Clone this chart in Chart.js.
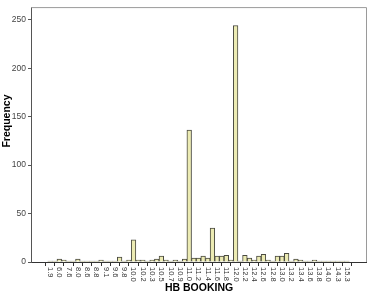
<!DOCTYPE html>
<html>
<head>
<meta charset="utf-8">
<script src="https://cdn.jsdelivr.net/npm/chart.js@4"></script>
<style>
html,body{margin:0;padding:0;background:#fff;}
#wrap{width:370px;height:295px;}
</style>
</head>
<body>
<div id="wrap"><canvas id="c" width="370" height="295"></canvas></div>
<script>
// Labelled categories (every other category carries a label)
const tickLabels = ["1.9","6.0","7.6","8.0","8.6","8.8","9.1","9.6","9.8","10.0","10.2","10.3","10.5","10.7","10.9","11.0","11.2","11.4","11.6","11.8","12.0","12.2","12.4","12.6","12.8","13.0","13.2","13.4","13.6","13.8","14.0","14.3","15.3"];
// Frequency of each category (65 categories, in order)
const frequencies = [1,1,3,2,1,1,3,1,1,1,1,2,1,1,1,5,1,2,23,2,2,1,2,3,6,2,1,2,1,3,136,4,4,6,4,35,6,6,7,2,244,1,7,4,2,6,8,2,1,6,6,9,1,3,2,1,1,2,1,1,1,1,1,1,1];
const yTicks = [0,50,100,150,200,250];
const xTitle = "HB BOOKING";
const yTitle = "Frequency";

const points = frequencies.map((v,i)=>({x:i,y:v}));

const drawPlugin = {
  id:'spssDecor',
  afterDraw(chart){
    const ctx = chart.ctx, a = chart.chartArea;
    const xs = chart.scales.x;
    ctx.save();
    // frame top and right
    ctx.strokeStyle = '#9a9a9a';
    ctx.lineWidth = 1;
    ctx.beginPath();
    ctx.moveTo(a.left, a.top+0.5); ctx.lineTo(a.right+0.5, a.top+0.5);
    ctx.lineTo(a.right+0.5, a.bottom);
    ctx.stroke();
    // rotated x tick labels (reading top to bottom)
    ctx.fillStyle = '#333';
    ctx.font = '7.5px "Liberation Sans", Arial, sans-serif';
    ctx.textAlign = 'left';
    ctx.textBaseline = 'middle';
    tickLabels.forEach((lab,k)=>{
      const px = xs.getPixelForValue(k*2);
      ctx.save();
      ctx.translate(px, a.bottom+5);
      ctx.rotate(Math.PI/2);
      ctx.fillText(lab,0,0);
      ctx.restore();
    });
    // axis titles
    ctx.fillStyle = '#000';
    ctx.font = 'bold 10.5px "Liberation Sans", Arial, sans-serif';
    ctx.textAlign = 'center';
    ctx.textBaseline = 'middle';
    ctx.fillText(xTitle, 199, 288);
    ctx.save();
    ctx.translate(7, 121);
    ctx.rotate(-Math.PI/2);
    ctx.fillText(yTitle,0,0);
    ctx.restore();
    ctx.restore();
  }
};

new Chart(document.getElementById('c'), {
  type:'bar',
  data:{
    datasets:[{
      data:points,
      backgroundColor:'#ecebb3',
      borderColor:'#4a4a40',
      borderWidth:1,
      barPercentage:1.0,
      categoryPercentage:1.0
    }]
  },
  options:{
    responsive:false,
    animation:false,
    devicePixelRatio:1,
    layout:{padding:{top:3,right:4,left:0,bottom:0}},
    plugins:{legend:{display:false},tooltip:{enabled:false}},
    scales:{
      x:{
        type:'linear',
        min:-4.1,
        max:68.1,
        offset:false,
        afterBuildTicks(scale){
          scale.ticks = tickLabels.map((l,k)=>({value:k*2}));
        },
        afterFit(scale){ scale.height = 33; },
        ticks:{display:false},
        grid:{display:true,drawOnChartArea:false,drawTicks:true,tickLength:4,color:'#333'},
        border:{display:true,color:'#333',width:1}
      },
      y:{
        min:0,
        max:263,
        afterBuildTicks(scale){
          scale.ticks = yTicks.map(v=>({value:v}));
        },
        afterFit(scale){ scale.width = 31; },
        ticks:{color:'#444',font:{size:8.5,family:'"Liberation Sans", Arial, sans-serif'},padding:2},
        grid:{display:true,drawOnChartArea:false,drawTicks:true,tickLength:3,color:'#555'},
        border:{display:true,color:'#555',width:1}
      }
    }
  },
  plugins:[drawPlugin]
});
</script>
</body>
</html>
